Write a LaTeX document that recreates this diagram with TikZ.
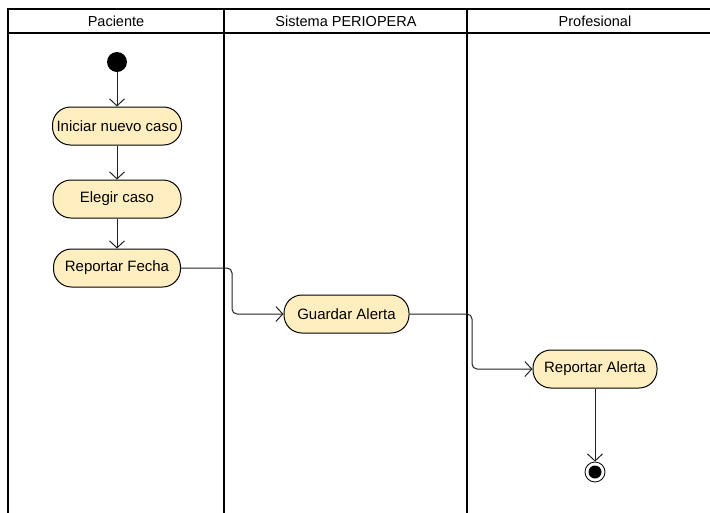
\documentclass[tikz,border=0pt]{standalone}
\usepackage{fontspec}
\setmainfont{Liberation Sans}
\usetikzlibrary{arrows.meta}
\definecolor{actfill}{HTML}{FFEFC0}
\definecolor{flowgray}{HTML}{222222}
\begin{document}
\begin{tikzpicture}[x=1pt,y=-1pt,
  lane/.style={line width=1.6pt,draw=black},
  act/.style={draw=black,line width=1pt,fill=actfill,rounded corners=18pt,
    minimum height=38pt,inner sep=0pt,font=\fontsize{15}{17}\selectfont},
  hdr/.style={font=\fontsize{14.5}{17}\selectfont},
  flow/.style={draw=flowgray,line width=1pt,-{Straight Barb[length=7pt,width=15pt]},rounded corners=5pt},
  startdot/.style={circle,fill=black,minimum size=20pt,inner sep=0pt},
  enddot/.style={circle,draw=black,line width=0.8pt,fill=white,minimum size=20pt,inner sep=0pt}]
\useasboundingbox (0,0) rectangle (710,512);
% swimlane frame
\draw[lane] (8,514) -- (8,9) -- (714,9);
\draw[lane] (8,33) -- (714,33);
\draw[lane] (224,9) -- (224,514);
\draw[lane] (467,9) -- (467,514);
\node[hdr] (h1) at (116,21) {Paciente};
\node[hdr] (h2) at (346,21) {Sistema PERIOPERA};
\node[hdr] (h3) at (595,21) {Profesional};
% activities
\node[startdot] (s) at (117,62) {};
\node[act,minimum width=129pt] (a1) at (117,126) {Iniciar nuevo caso};
\node[act,minimum width=128pt] (a2) at (117,199) {Elegir caso};
\node[act,minimum width=127pt] (a3) at (117,268) {Reportar Fecha};
\node[act,minimum width=125pt] (a4) at (346.5,314) {Guardar Alerta};
\node[act,minimum width=124pt] (a5) at (595,369) {Reportar Alerta};
\node[enddot] (e) at (595,472) {};
\fill (e) circle (6.5pt);
% control flows
\draw[flow] (s) -- (a1);
\draw[flow] (a1) -- (a2);
\draw[flow] (a2) -- (a3);
\draw[flow] (a3.east) -- (232,268) -- (232,314) -- (a4.west);
\draw[flow] (a4.east) -- (472,314) -- (472,369) -- (a5.west);
\draw[flow] (a5) -- (e);
\end{tikzpicture}
\end{document}
